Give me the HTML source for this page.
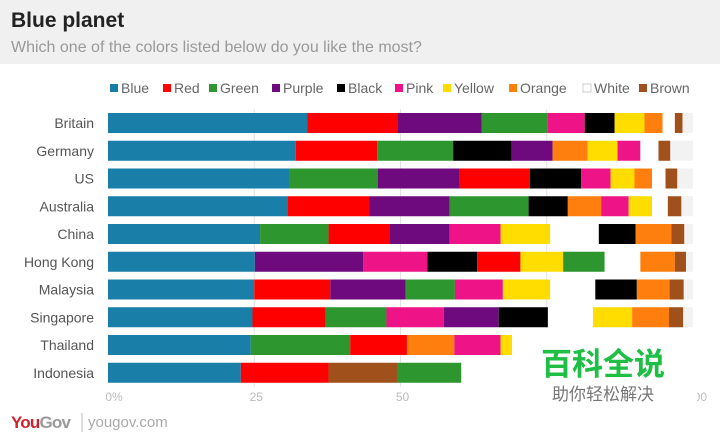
<!DOCTYPE html>
<html><head><meta charset="utf-8"><style>
body{margin:0;width:720px;height:439px;overflow:hidden;background:#fff;font-family:"Liberation Sans",sans-serif;}
</style></head><body>
<svg id="c" width="720" height="439" xmlns="http://www.w3.org/2000/svg">
<rect x="0" y="0" width="720" height="64" fill="#f0f0f0"/>
<text x="11" y="27" font-size="21" font-weight="bold" fill="#222">Blue planet</text>
<text x="11" y="52" font-size="16" fill="#999">Which one of the colors listed below do you like the most?</text>
<g id="legend"></g>
<g id="grid"></g>
<g id="bars"></g>
<g id="xaxis"></g>
<g>
<rect x="512" y="328" width="185" height="84" fill="#fff"/>
<text x="603" y="375" font-size="31" font-weight="bold" fill="#1fbe45" text-anchor="middle" font-family="'Noto Sans CJK SC',sans-serif">百科全说</text>
<text x="603" y="400" font-size="17" fill="#777" text-anchor="middle" font-family="'Noto Sans CJK SC',sans-serif">助你轻松解决</text>
</g>
<g>
<text x="11" y="428" font-size="17" font-weight="bold" fill="#d4202b" letter-spacing="-0.8">You<tspan fill="#999">Gov</tspan></text>
<line x1="82" y1="413" x2="82" y2="432" stroke="#bbb"/>
<text x="88" y="427" font-size="15" fill="#aaa">yougov.com</text>
</g>
</svg>
<script>
const countries=["Britain","Germany","US","Australia","China","Hong Kong","Malaysia","Singapore","Thailand","Indonesia"];
const seriesNames=["Blue","Red","Green","Purple","Black","Pink","Yellow","Orange","White","Brown"];
const colors=["#1a7fa8","#ff0000","#2e962e","#6e0a7e","#000000","#ee1487","#ffdd00","#ff7f0e","#ffffff","#a0501a"];
const blue  =[34.1,32.1,31.1,30.7,26.0,25.1,25.0,24.7,24.4,22.7];
const red   =[15.4,13.9,12.1,14.0,10.4,7.4,13.0,12.5,9.7,15.0];
const green =[11.3,13.0,15.0,13.5,11.7,7.1,8.4,10.4,17.0,11.0];
const purple=[14.4,7.0,13.9,13.7,10.3,18.5,12.9,9.4,5.0,2.0];
const black =[5.1,10.0,8.8,6.7,6.3,8.5,7.1,8.4,6.0,7.0];
const pink  =[6.3,3.9,5.0,4.7,8.7,11.0,8.2,9.8,7.9,8.0];
const yellow=[5.1,5.1,4.1,4.0,8.5,7.3,8.1,6.7,7.0,6.0];
const orange=[3.1,6.0,3.0,5.7,6.1,5.9,5.6,6.3,8.1,4.0];
const white =[2.1,3.1,2.3,2.7,8.3,6.1,7.7,7.7,4.0,9.0];
const brown =[1.3,2.0,2.0,2.3,2.2,1.9,2.4,2.4,2.0,11.7];
const ticks=[0,25,50,75,100];
const tickLabels=["0%","25","50","75","100"];
const series=[blue,red,green,purple,black,pink,yellow,orange,white,brown];
const NS="http://www.w3.org/2000/svg";
const x0=108,x1=693,y0=113,step=27.75,bh=20;
const X=v=>x0+(x1-x0)*v/100;
const Y=i=>y0+i*step;
function mk(t,a,p){const e=document.createElementNS(NS,t);for(const k in a)e.setAttribute(k,a[k]);p.appendChild(e);return e;}
const grid=document.getElementById('grid'),bars=document.getElementById('bars'),xa=document.getElementById('xaxis'),lg=document.getElementById('legend');
ticks.forEach((t,i)=>{
  if(t>0&&t<100){const l=mk('line',{x1:X(t),x2:X(t),y1:Y(0)-4,y2:Y(countries.length-1)+bh+4,stroke:'#e2e2e2'},grid);
  
  }
  const dx=i==0?6:(t==100?4:2);
  const tx=mk('text',{x:X(t)+dx,y:401,'font-size':12,fill:'#bbb','text-anchor':'middle'},xa);
  tx.textContent=tickLabels[i];
  
  
});
countries.forEach((c,i)=>{
  const lab=mk('text',{x:94,y:Y(i)+15,'font-size':14,fill:'#555','text-anchor':'end'},bars);
  lab.textContent=c;
  
  
  const tr=mk('rect',{x:x0,y:Y(i),width:x1-x0,height:bh,fill:'#f2f2f2'},bars);
  
  
  const idx=series.map((s,k)=>k).sort((a,b)=>series[b][i]-series[a][i]);
  let acc=0;
  idx.forEach(k=>{
    const v=series[k][i];
    const r=mk('rect',{x:X(acc),y:Y(i),width:X(acc+v)-X(acc),height:bh,fill:colors[k]},bars);
    
    
    acc+=v;
  });
});
const legendX=[110,163,209,272,337,395,443,509,583,639];
seriesNames.forEach((n,k)=>{
  const lx=legendX[k];
  const sq=mk('rect',{x:lx,y:84,width:8,height:8,fill:colors[k],stroke:k==8?'#ccc':'none'},lg);
  
  
  const t=mk('text',{x:lx+11,y:93,'font-size':14,fill:'#666'},lg);
  t.textContent=n;
  
  
});
</script>
</body></html>
